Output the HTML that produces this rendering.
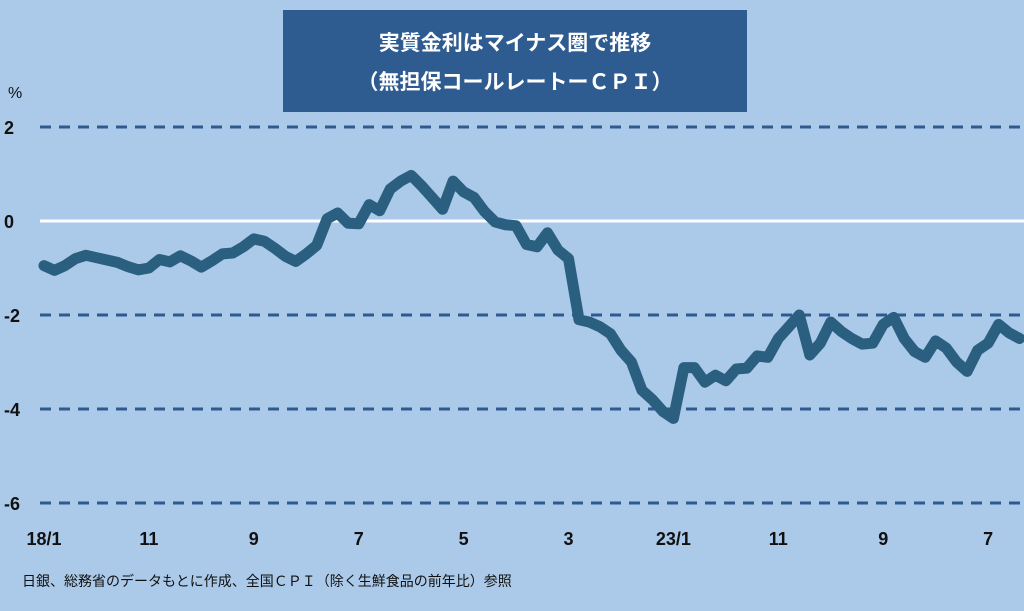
<!DOCTYPE html>
<html><head><meta charset="utf-8"><style>
html,body{margin:0;padding:0;}
body{width:1024px;height:606px;background:#abc9e8;overflow:hidden;font-family:"Liberation Sans","Noto Sans CJK JP",sans-serif;}
</style></head><body>
<svg id="chart" width="1024" height="606" xmlns="http://www.w3.org/2000/svg">
<rect x="0" y="0" width="1024" height="606" fill="#abc9e8"/>
<g id="grid"></g>
<g id="yaxis"></g>
<g id="xaxis"></g>
<g id="series"></g>
<rect x="283" y="10" width="464" height="102" fill="#2e5b90"/>
<text x="515" y="50" text-anchor="middle" fill="#fff" font-size="21" font-weight="bold" font-family="'Liberation Sans','Noto Sans CJK JP',sans-serif">実質金利はマイナス圏で推移</text>
<text x="515" y="89" text-anchor="middle" fill="#fff" font-size="21" font-weight="bold" font-family="'Liberation Sans','Noto Sans CJK JP',sans-serif">（無担保コールレートーＣＰＩ）</text>
<text x="8" y="98" fill="#111" font-size="16" font-family="'Liberation Sans',sans-serif">%</text>
<text x="22" y="586" fill="#111" font-size="14" font-family="'Liberation Sans','Noto Sans CJK JP',sans-serif">日銀、総務省のデータもとに作成、全国ＣＰＩ（除く生鮮食品の前年比）参照</text>
</svg>
<script>
const yTicks=[2,0,-2,-4,-6];
const yTickLabels=["2","0","-2","-4","-6"];
const xTickIndex=[0,10,20,30,40,50,60,70,80,90];
const xTickLabels=["18/1","11","9","7","5","3","23/1","11","9","7"];
const rateValues=[-0.95,-1.05,-0.95,-0.8,-0.73,-0.78,-0.83,-0.88,-0.97,-1.04,-1.0,-0.82,-0.87,-0.74,-0.85,-0.98,-0.85,-0.7,-0.68,-0.55,-0.38,-0.43,-0.58,-0.75,-0.86,-0.7,-0.52,0.05,0.17,-0.05,-0.06,0.35,0.22,0.68,0.85,0.97,0.75,0.5,0.25,0.85,0.62,0.5,0.2,-0.02,-0.08,-0.1,-0.5,-0.55,-0.25,-0.62,-0.8,-2.1,-2.15,-2.25,-2.4,-2.75,-3.0,-3.6,-3.8,-4.05,-4.2,-3.12,-3.12,-3.43,-3.28,-3.4,-3.15,-3.13,-2.87,-2.9,-2.5,-2.25,-2.0,-2.85,-2.6,-2.15,-2.35,-2.5,-2.62,-2.6,-2.2,-2.05,-2.5,-2.78,-2.9,-2.55,-2.7,-3.0,-3.2,-2.75,-2.6,-2.2,-2.38,-2.5];
const NS="http://www.w3.org/2000/svg";
const yScale=v=>221-47*v;
const xScale=i=>44+10.49*i;
function mk(tag,attrs,parent){const e=document.createElementNS(NS,tag);for(const k in attrs)e.setAttribute(k,attrs[k]);parent.appendChild(e);return e;}
const grid=document.getElementById('grid'),ya=document.getElementById('yaxis'),xa=document.getElementById('xaxis'),se=document.getElementById('series');
yTicks.forEach((t,k)=>{
  const y=yScale(t);
  const l=mk('line',{x1:40,x2:1024,y1:y,y2:y,stroke:t===0?'#ffffff':'#2f5a8f','stroke-width':3,'stroke-dasharray':t===0?'none':'11 8'},grid);
  
  
  const tx=mk('text',{x:4,y:y+7,'font-size':18,'font-weight':'bold',fill:'#111','font-family':'Liberation Sans,sans-serif'},ya);
  tx.textContent=yTickLabels[k];
  
  
});
xTickIndex.forEach((i,k)=>{
  const tx=mk('text',{x:xScale(i),y:545,'text-anchor':'middle','font-size':18,'font-weight':'bold',fill:'#111','font-family':'Liberation Sans,sans-serif'},xa);
  tx.textContent=xTickLabels[k];
  
  
});
const d=rateValues.map((v,i)=>(i?'L':'M')+xScale(i).toFixed(1)+' '+yScale(v).toFixed(1)).join(' ');
const p=mk('path',{d:d,fill:'none',stroke:'#2b5f80','stroke-width':11,'stroke-linejoin':'round','stroke-linecap':'round'},se);


</script>
</body></html>
